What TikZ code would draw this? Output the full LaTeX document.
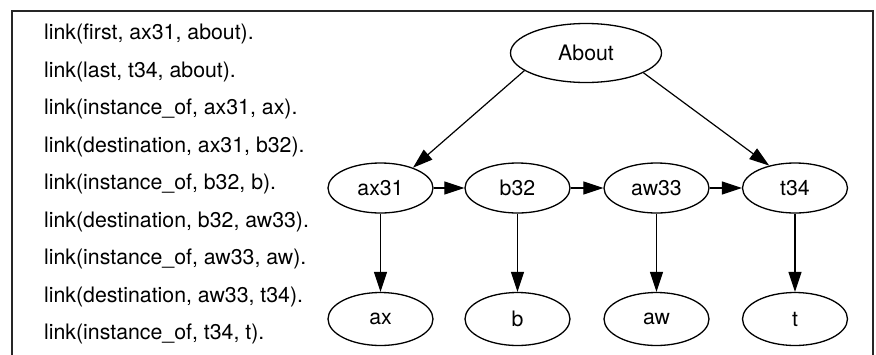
\documentclass[tikz,border=0pt]{standalone}
\usepackage{fontspec}
\setmainfont{TeX Gyre Heros}
\usetikzlibrary{arrows.meta,shapes.geometric}
\begin{document}
\begin{tikzpicture}[x=1pt,y=-1pt,
  nd/.style={ellipse, draw, line width=1.3pt, minimum width=105pt, minimum height=50pt, inner sep=0pt, font=\fontsize{21.3}{25}\selectfont},
  arr/.style={line width=1.2pt, -{Triangle[length=20pt,width=13pt]}},
  lk/.style={anchor=base west, inner sep=0pt, font=\fontsize{21.3}{25}\selectfont}]
\useasboundingbox (0,0) rectangle (876,354);
\draw[line width=2.2pt, black!85] (12,365) -- (12,11) -- (873,11) -- (873,365);
% left text
\node[lk] (l1) at (44,39.5) {link(first, ax31, about).};
\node[lk] (l2) at (44,77) {link(last, t34, about).};
\node[lk] (l3) at (44,114.5) {link(instance\_of, ax31, ax).};
\node[lk] (l4) at (44,152) {link(destination, ax31, b32).};
\node[lk] (l5) at (44,189.5) {link(instance\_of, b32, b).};
\node[lk] (l6) at (44,227) {link(destination, b32, aw33).};
\node[lk] (l7) at (44,264.5) {link(instance\_of, aw33, aw).};
\node[lk] (l8) at (44,302) {link(destination, aw33, t34).};
\node[lk] (l9) at (44,339.5) {link(instance\_of, t34, t).};
% graph
\node[nd, minimum width=151pt, minimum height=59pt] (about) at (586,53) {About};
\node[nd] (ax31) at (380.5,188) {ax31};
\node[nd] (b32) at (517.5,188) {b32};
\node[nd] (aw33) at (656.5,188) {aw33};
\node[nd] (t34) at (795,188) {t34};
\node[nd, minimum height=53pt] (ax) at (380.5,319) {ax};
\node[nd, minimum height=53pt] (b) at (517.5,319) {b};
\node[nd, minimum height=53pt] (aw) at (656.5,319) {aw};
\node[nd, minimum height=53pt] (t) at (795,319) {t};
\draw[arr] (about.196) -- (ax31.32);
\draw[arr] (about.341) -- (t34.139);
\draw[arr] (ax31) -- (b32);
\draw[arr] (b32) -- (aw33);
\draw[arr] (aw33) -- (t34);
\draw[arr] (ax31) -- (ax);
\draw[arr] (b32) -- (b);
\draw[arr] (aw33) -- (aw);
\draw[arr] (t34) -- (t);
\end{tikzpicture}
\end{document}
